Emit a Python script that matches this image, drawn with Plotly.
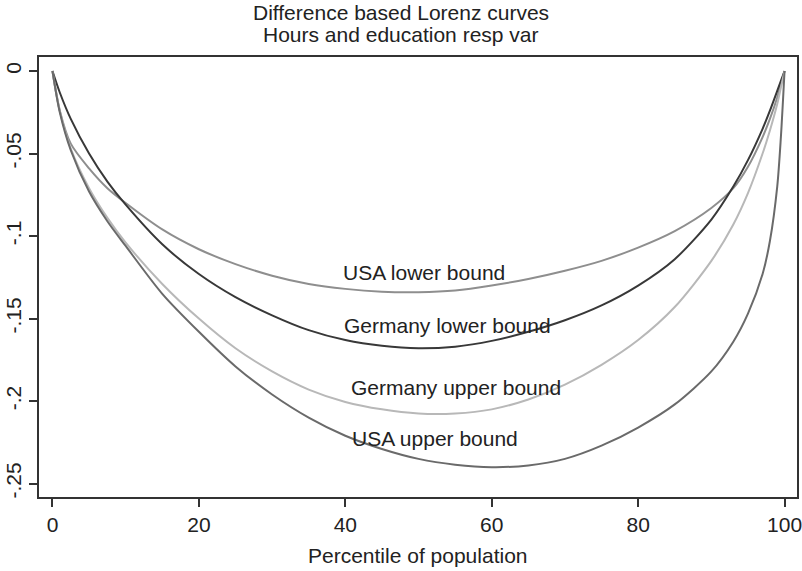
import plotly.graph_objects as go

# Percentile of population
pct = [0, 1, 2.5, 5, 7.5, 10, 15, 20, 25, 30, 35, 40, 45, 50, 55, 60, 65, 70,
       75, 80, 85, 90, 93, 95, 97, 98, 99, 99.5, 100]

usa_lower = [0, -0.024, -0.044, -0.059, -0.071, -0.080, -0.096, -0.108, -0.117,
             -0.124, -0.129, -0.132, -0.1337, -0.134, -0.133, -0.130, -0.126,
             -0.121, -0.115, -0.107, -0.097, -0.083, -0.071, -0.058, -0.040,
             -0.029, -0.016, -0.008, 0]
germany_lower = [0, -0.013, -0.029, -0.050, -0.067, -0.081, -0.105, -0.123,
                 -0.137, -0.148, -0.157, -0.163, -0.1665, -0.168, -0.167,
                 -0.1635, -0.158, -0.151, -0.142, -0.130, -0.114, -0.090,
                 -0.070, -0.054, -0.035, -0.024, -0.012, -0.006, 0]
germany_upper = [0, -0.024, -0.047, -0.071, -0.089, -0.104, -0.129, -0.150,
                 -0.168, -0.182, -0.193, -0.2005, -0.205, -0.2075, -0.2075,
                 -0.205, -0.199, -0.190, -0.178, -0.163, -0.143, -0.115, -0.093,
                 -0.074, -0.050, -0.036, -0.020, -0.010, 0]
usa_upper = [0, -0.025, -0.048, -0.073, -0.091, -0.106, -0.135, -0.158, -0.179,
             -0.196, -0.210, -0.221, -0.229, -0.235, -0.2385, -0.240, -0.239,
             -0.235, -0.227, -0.216, -0.202, -0.182, -0.164, -0.147, -0.123,
             -0.103, -0.070, -0.040, 0]

series_names = ["USA lower bound", "Germany lower bound",
                "Germany upper bound", "USA upper bound"]
series_values = [usa_lower, germany_lower, germany_upper, usa_upper]
series_colors = ["#8e8e8e", "#383838", "#b8b8b8", "#6a6a6a"]

# label positions (data coordinates)
label_x = [39.4, 39.5, 40.45, 40.6]
label_y = [-0.122, -0.154, -0.192, -0.2225]

x_ticks = [0, 20, 40, 60, 80, 100]
y_ticks = [0, -0.05, -0.1, -0.15, -0.2, -0.25]
y_ticktext = ["0", "-.05", "-.1", "-.15", "-.2", "-.25"]

FONT = "Liberation Sans, Arial, Helvetica, sans-serif"
FS = 21

fig = go.Figure()
for name, vals, col in zip(series_names, series_values, series_colors):
    fig.add_trace(go.Scatter(x=pct, y=vals, mode="lines", name=name,
                             line=dict(color=col, width=2, shape="spline",
                                       smoothing=0.8),
                             showlegend=False, hoverinfo="skip"))

annotations = []
for name, lx, ly in zip(series_names, label_x, label_y):
    annotations.append(dict(x=lx, y=ly, xref="x", yref="y", text=name,
                            showarrow=False, xanchor="left", yanchor="middle",
                            font=dict(family=FONT, size=FS, color="#222222")))

annotations += [
    dict(x=0.4776, y=1.10, xref="paper", yref="paper",
         text="Difference based Lorenz curves", showarrow=False,
         xanchor="center", yanchor="middle",
         font=dict(family=FONT, size=FS, color="#222222")),
    dict(x=0.4776, y=1.05, xref="paper", yref="paper",
         text="Hours and education resp var", showarrow=False,
         xanchor="center", yanchor="middle",
         font=dict(family=FONT, size=FS, color="#222222")),
    dict(x=0.5, y=-0.134, xref="paper", yref="paper",
         text="Percentile of population", showarrow=False,
         xanchor="center", yanchor="middle",
         font=dict(family=FONT, size=FS, color="#222222")),
]

axis_common = dict(showline=True, linecolor="#333333", linewidth=1.5,
                   mirror=True, showgrid=False, zeroline=False,
                   automargin=False, ticklabeloverflow="allow",
                   ticks="outside", ticklen=8, tickwidth=1.5,
                   tickcolor="#333333",
                   tickfont=dict(family=FONT, size=FS, color="#222222"))

fig.update_layout(
    width=802, height=571,
    margin=dict(l=39, r=5, t=57, b=74),
    paper_bgcolor="white", plot_bgcolor="white",
    xaxis=dict(range=[-1.84, 101.7], tickvals=x_ticks, **axis_common),
    yaxis=dict(range=[-0.2581, 0.0085], tickvals=y_ticks,
               ticktext=y_ticktext, tickangle=-90, **axis_common),
    annotations=annotations,
)

fig.write_html(
    "out.html",
    config={"displayModeBar": False},
    post_script="document.body.style.margin='0';document.body.style.overflow='hidden';",
)
